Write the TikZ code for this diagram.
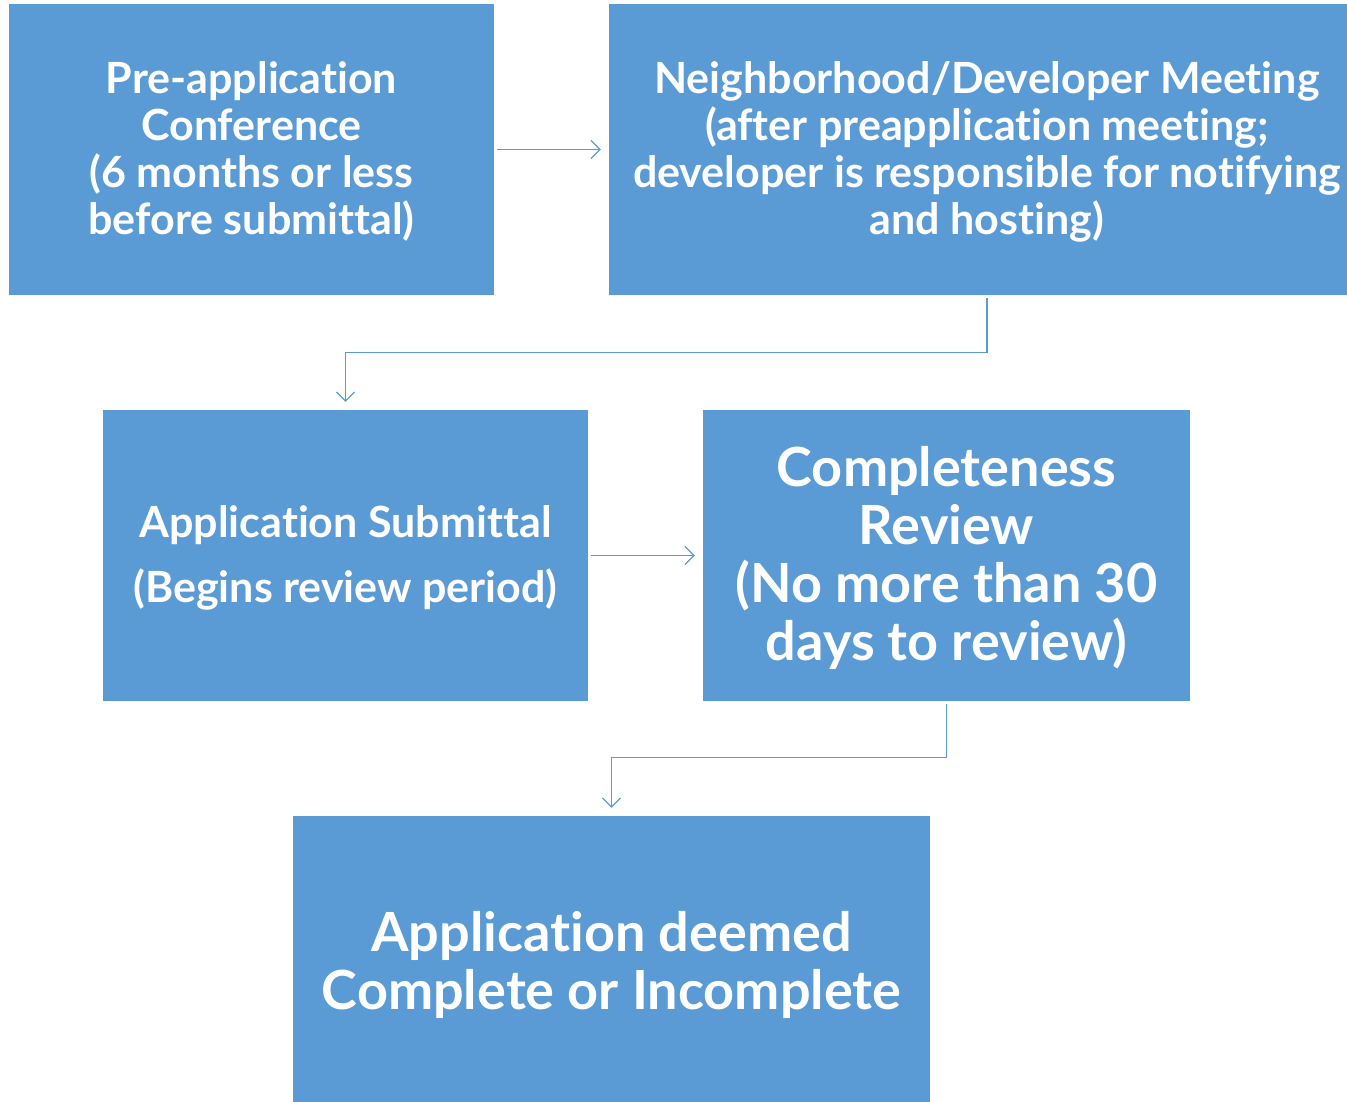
\documentclass[tikz,border=0pt]{standalone}
\usepackage{fontspec}
\setmainfont{Lato}[Ligatures=NoCommon]
\usetikzlibrary{arrows.meta}
\definecolor{boxblue}{HTML}{5B9BD5}
\definecolor{lineblue}{HTML}{5B9BD5}
\tikzset{
  stepbox/.style={fill=boxblue, draw=none, inner sep=0pt},
  steptext/.style={align=center, text=white, inner sep=0pt},
  smalltext/.style={steptext, font=\bfseries\fontsize{43}{47}\selectfont},
  bigtext/.style={steptext, font=\bfseries\fontsize{54}{58}\selectfont},
  conn/.style={draw=lineblue, line width=1.2pt, -{Straight Barb[length=9pt,width=18pt,line width=1.2pt]}, shorten <=3pt, shorten >=8pt}
}
\begin{document}
\begin{tikzpicture}[x=1pt,y=-1pt]
\useasboundingbox (0,0) rectangle (1347,1102);
\clip (0,0) rectangle (1347,1102);
\node[stepbox, minimum width=485pt, minimum height=291pt] (A) at (251.5,149.5) {};
\node[smalltext] (At) at ([yshift=-2pt]A.center)
  {Pre-application\\Conference\\(6 months or less\\before submittal)};
\node[stepbox, minimum width=756pt, minimum height=291pt] (B) at (987,149.5) {};
\node[smalltext] (Bt) at ([yshift=-2pt]B.center)
  {Neighborhood/Developer Meeting\\(after preapplication meeting;\\developer is responsible for notifying\\and hosting)};
\node[stepbox, minimum width=485pt, minimum height=291pt] (C) at (345.5,555.5) {};
\node[smalltext, font=\bfseries\fontsize{43}{65}\selectfont] (Ct) at ([yshift=-2pt]C.center)
  {Application Submittal\\(Begins review period)};
\node[stepbox, minimum width=487pt, minimum height=291pt] (D) at (946.5,555.5) {};
\node[bigtext] (Dt) at ([yshift=-2pt]D.center)
  {Completeness\\Review\\(No more than 30\\days to review)};
\node[stepbox, minimum width=637pt, minimum height=290pt] (E) at (611.5,961) {};
\node[bigtext] (Et) at ([yshift=-4pt]E.center)
  {Application deemed\\Complete or Incomplete};
\draw[conn] (A.east) -- (B.west |- A.east);
\draw[conn] (C.east) -- (D.west |- C.east);
\draw[conn] (B.south) -- ++(0,57.5) -| (C.north);
\draw[conn] (D.south) -- ++(0,56) -| (E.north);
\end{tikzpicture}
\end{document}
